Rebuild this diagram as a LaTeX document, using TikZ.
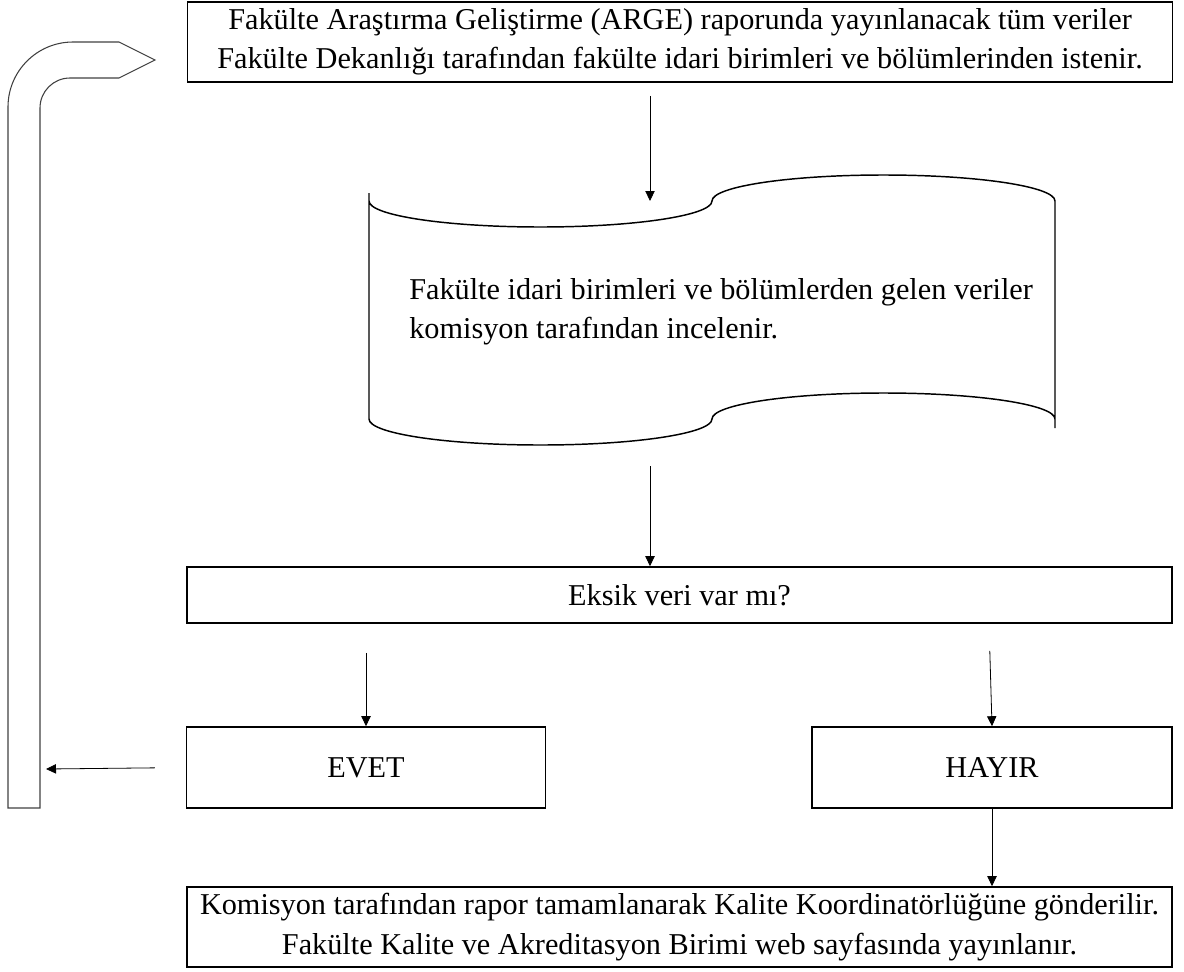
\documentclass[tikz,border=0pt]{standalone}
\usepackage{fontspec}
\setmainfont{Liberation Serif}
\usetikzlibrary{
  calc,
  arrows.meta}

\tikzset{
  %% process : a plain step of the procedure
  process/.style={
    rectangle,
    draw=black,
    line width=1.2pt,
    minimum width=738.75pt,
    minimum height=60pt,
    inner sep=0pt,
    align=center
  },
  %% decision : the question box
  decision/.style={
    process,
    minimum height=42pt
  },
  %% answer : yes / no boxes
  answer/.style={
    process,
    minimum width=269pt,
    minimum height=60.75pt
  },
  %% tapeline : outline of the punched tape
  tapeline/.style={black, line width=1.1pt},
  %% returnline : the bent block arrow going back up
  returnline/.style={black!75, line width=0.8pt},
  %% flow : connection between steps
  flow/.style={
    draw=black,
    line width=0.6pt,
    -{Triangle[length=7.5pt, width=7pt]}
  }
}

\begin{document}
\begin{tikzpicture}
  [x=0.75pt,
  y=-0.75pt,
  align=center,
  font=\fontsize{22.7}{29.5}\selectfont]

  \useasboundingbox (0,0) rectangle (1184,971);

  %%% Main workflow
  \node (request) [process] at (680,42) {%
    Fakülte Araştırma Geliştirme (ARGE) raporunda yayınlanacak tüm veriler\\
    Fakülte Dekanlığı tarafından fakülte idari birimleri ve bölümlerinden istenir.};

  %% Punched tape
  \draw [tapeline]
  (369,193) -- (369,419)
  .. controls (369,433.4) and (445.8,445) .. (540.5,445)
  .. controls (635.2,445) and (712,433.4) .. (712,419)
  .. controls (712,404.6) and (788.8,393) .. (883.5,393)
  .. controls (978.2,393) and (1055,404.6) .. (1055,419)
  (369,201)
  .. controls (369,215.4) and (445.8,227) .. (540.5,227)
  .. controls (635.2,227) and (712,215.4) .. (712,201)
  .. controls (712,186.6) and (788.8,175) .. (883.5,175)
  .. controls (978.2,175) and (1055,186.6) .. (1055,201)
  -- (1055,428);
  \node (review) [anchor=west, align=left, inner sep=0pt] at (409,312) {%
    Fakülte idari birimleri ve bölümlerden gelen veriler\\
    komisyon tarafından incelenir.};
  \coordinate (tapetop) at (650,201);
  \coordinate (tapebot) at (650,466);

  \node (check) [decision] at (679.5,595) {Eksik veri var mı?};

  \node (yes) [answer] at (366,767.5) {EVET};
  \node (no) [answer, minimum width=270pt] at (992,767.5) {HAYIR};

  \node (done) [process] at (679.5,927) {%
    Komisyon tarafından rapor tamamlanarak Kalite Koordinatörlüğüne gönderilir.\\
    Fakülte Kalite ve Akreditasyon Birimi web sayfasında yayınlanır.};

  %% Return arrow (back to the first step)
  \draw [returnline]
  (8,808) -- (8,107)
  .. controls (8,71.1) and (37.1,42) .. (73,42)
  -- (119,42) -- (155,60) -- (119,78) -- (70,78)
  .. controls (53.4,78) and (40,91.4) .. (40,108)
  -- (40,808) -- cycle;
  \coordinate (loopin) at (46,769);

  %% Connections
  \draw [flow, shorten <=9.75pt] (request.south -| tapetop) -- (tapetop);
  \draw [flow] (tapebot) -- (check.north -| tapebot);
  \draw [flow, shorten <=21.75pt] (check.south -| yes.north) -- (yes.north);
  \draw [flow, shorten <=20.25pt] ([xshift=-2.25pt]no.north |- check.south) -- (no.north);
  \draw [flow] (no.south) -- (no.south |- done.north);
  \draw [flow, shorten <=23.25pt] (yes.west) -- (loopin);

\end{tikzpicture}
\end{document}
